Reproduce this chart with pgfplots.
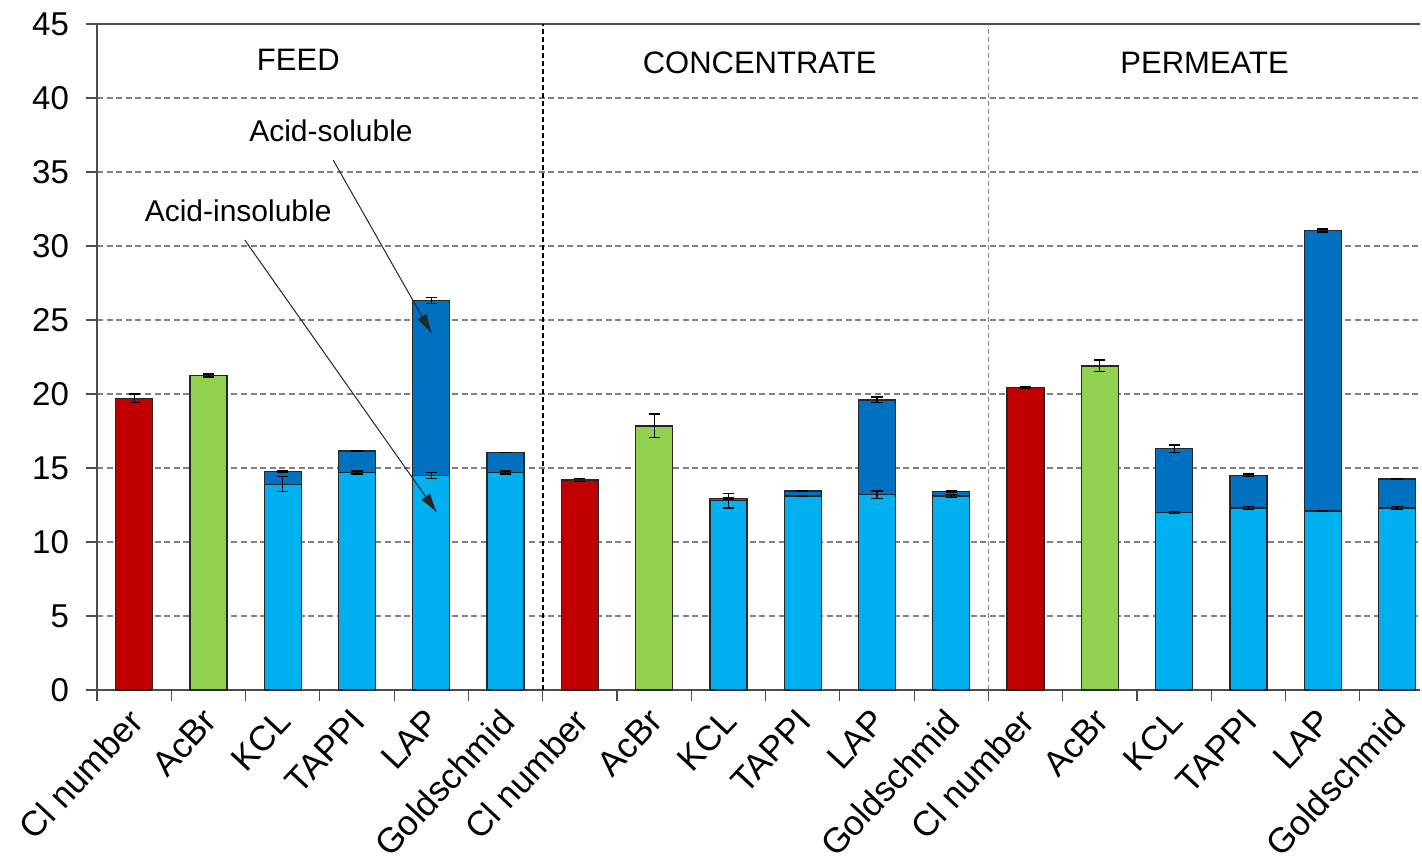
\documentclass[border=0pt]{standalone}
\usepackage{pgfplots}
\pgfplotsset{compat=1.18}
\usetikzlibrary{arrows.meta}
\usepackage{fontspec}
\setmainfont{Liberation Sans}
\definecolor{cired}{HTML}{C00000}
\definecolor{acgreen}{HTML}{92D050}
\definecolor{lblue}{HTML}{00B0F0}
\definecolor{dblue}{HTML}{0070C0}
\definecolor{gridgray}{HTML}{808080}
\begin{document}
\begin{tikzpicture}
\begin{axis}[
  scale only axis, width=661.5pt, height=333pt,
  xmin=-0.5, xmax=17.31, ymin=0, ymax=45,
  axis x line*=bottom, axis y line*=left,
  axis line style={draw=black!70, line width=0.6pt},
  ytick={0,5,...,45},
  ymajorgrids, grid style={gridgray, line width=0.6pt, dash pattern=on 3pt off 1.8pt},
  xtick={0,...,17},
  xticklabels={Cl number,AcBr,KCL,TAPPI,LAP,Goldschmid,Cl number,AcBr,KCL,TAPPI,LAP,Goldschmid,Cl number,AcBr,KCL,TAPPI,LAP,Goldschmid},
  major x tick style={draw=none},
  minor xtick={-0.5,0.5,...,17.5},
  minor x tick style={draw=black!70, line width=0.6pt},
  minor tick length=5.5pt,
  tick align=outside,
  major y tick style={draw=black!70, line width=0.6pt}, major tick length=5.5pt,
  xticklabel style={xshift=1pt, yshift=-7pt, rotate=47, anchor=east, font=\fontsize{17.5}{20}\selectfont, inner sep=0pt},
  yticklabel style={font=\fontsize{16.5}{19}\selectfont, xshift=-5pt},
  /pgf/number format/assume math mode=true,
  ybar, bar width=18.5pt, bar shift=0pt,
  every axis plot/.append style={draw=black!85, line width=0.7pt},
  error bars/error bar style={black, line width=0.6pt},
  error bars/error mark options={rotate=90, mark size=2.8pt, black, line width=0.6pt},
  clip=false,
]
% Cl number
\addplot[fill=cired, error bars/.cd, y dir=both, y explicit] coordinates {
  (0,19.7) +- (0,0.3)  (6,14.2) +- (0,0.1)  (12,20.45) +- (0,0.05)};
% AcBr
\addplot[fill=acgreen, error bars/.cd, y dir=both, y explicit] coordinates {
  (1,21.25) +- (0,0.1)  (7,17.85) +- (0,0.8)  (13,21.9) +- (0,0.4)};
% total (acid-soluble on top)
\addplot[fill=dblue, error bars/.cd, y dir=both, y explicit] coordinates {
  (2,14.75) +- (0,0.05) (3,16.15) +- (0,0) (4,26.3) +- (0,0.2) (5,16.05) +- (0,0)
  (8,12.95) +- (0,0.05) (9,13.45) +- (0,0.05) (10,19.6) +- (0,0.2) (11,13.4) +- (0,0.05)
  (14,16.3) +- (0,0.25) (15,14.5) +- (0,0.1) (16,31.05) +- (0,0.1) (17,14.25) +- (0,0.05)};
% acid-insoluble
\addplot[fill=lblue, error bars/.cd, y dir=both, y explicit] coordinates {
  (2,13.9) +- (0,0.5) (3,14.7) +- (0,0.1) (4,14.5) +- (0,0.2) (5,14.7) +- (0,0.1)
  (8,12.8) +- (0,0.5) (9,13.1) +- (0,0.05) (10,13.2) +- (0,0.25) (11,13.1) +- (0,0.1)
  (14,12.0) +- (0,0.05) (15,12.3) +- (0,0.1) (16,12.1) +- (0,0.05) (17,12.3) +- (0,0.1)};
% top border and separators
\draw[black!70, line width=0.6pt] (rel axis cs:0,1) -- (rel axis cs:1,1);
\draw[black, line width=1.1pt, dash pattern=on 2.5pt off 1.5pt] (axis cs:5.5,0) -- (axis cs:5.5,45);
\draw[gridgray, line width=0.6pt, dash pattern=on 2.5pt off 1.5pt] (axis cs:11.5,0) -- (axis cs:11.5,45);
% annotations
\node[font=\fontsize{15.5}{18}\selectfont] at (axis cs:2.21,42.6) {FEED};
\node[font=\fontsize{15.5}{18}\selectfont] at (axis cs:8.42,42.4) {CONCENTRATE};
\node[font=\fontsize{15.5}{18}\selectfont] at (axis cs:14.41,42.4) {PERMEATE};
\node[font=\fontsize{15}{18}\selectfont] at (axis cs:2.65,37.8) {Acid-soluble};
\node[font=\fontsize{15}{18}\selectfont] at (axis cs:1.40,32.4) {Acid-insoluble};
\draw[-{Latex[length=10pt,width=5.5pt]}, black!85, line width=0.5pt] (axis cs:2.68,35.8) -- (axis cs:4.01,24.05);
\draw[-{Latex[length=10pt,width=5.5pt]}, black!85, line width=0.5pt] (axis cs:1.49,30.4) -- (axis cs:4.08,11.96);
\end{axis}
\path[use as bounding box] ([shift={(-48.5pt,-88.5pt)}]current axis.south west) rectangle ([shift={(1pt,12pt)}]current axis.north east);
\end{tikzpicture}
\end{document}
